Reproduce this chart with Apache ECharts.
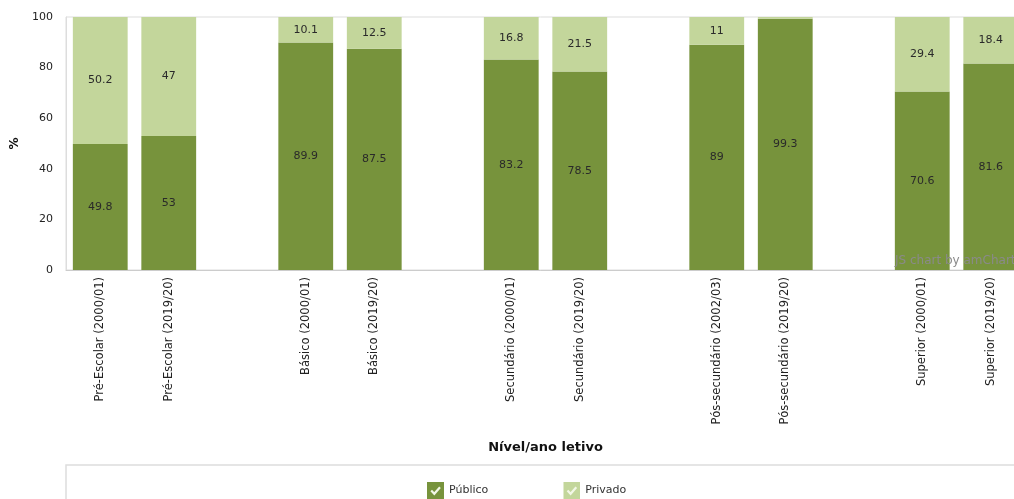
<!DOCTYPE html>
<html><head><meta charset="utf-8">
<script src="https://cdn.jsdelivr.net/npm/echarts@6/dist/echarts.min.js"></script>
<style>html,body{margin:0;padding:0;background:#fff}#c{width:1014px;height:499px}</style>
</head><body><div id="c"></div>
<script>
const categories = ["Pré-Escolar (2000/01)", "Pré-Escolar (2019/20)", " ",
  "Básico (2000/01)", "Básico (2019/20)", "  ",
  "Secundário (2000/01)", "Secundário (2019/20)", "   ",
  "Pós-secundário (2002/03)", "Pós-secundário (2019/20)", "    ",
  "Superior (2000/01)", "Superior (2019/20)"];
const publico = [49.8, 53, null, 89.9, 87.5, null, 83.2, 78.5, null, 89, 99.3, null, 70.6, 81.6];
const privado = [50.2, 47, null, 10.1, 12.5, null, 16.8, 21.5, null, 11, 0.7, null, 29.4, 18.4];
const yTicks = [0, 20, 40, 60, 80, 100];

const font = "DejaVu Sans";
const colPub = '#77933C', colPriv = '#C3D69B';
function checkIcon(c) {
  const svg = "<svg xmlns='http://www.w3.org/2000/svg' width='17' height='17'><rect width='17' height='17' fill='" + c +
    "'/><path d='M4.2 8.6L7.3 11.8L13 5.2' stroke='#f2f7e6' stroke-width='2.2' fill='none'/></svg>";
  return 'image://data:image/svg+xml;charset=utf-8,' + encodeURIComponent(svg);
}
const chart = echarts.init(document.getElementById('c'));
const lbl = {
  show: true, position: 'inside', color: '#2a2a2a', fontSize: 11, fontFamily: font,
  formatter: p => (p.value == null || p.value < 3) ? '' : String(p.value)
};
chart.setOption({
  animation: false,
  textStyle: { fontFamily: font },
  grid: { left: 66, top: 17, height: 253, width: 959, outerBoundsMode: 'none', containLabel: false,
    show: true, borderColor: '#ddd', borderWidth: 1 },
  legend: {
    data: [{ name: 'Público', icon: checkIcon(colPub) }, { name: 'Privado', icon: checkIcon(colPriv) }],
    left: 422, top: 477, itemWidth: 17, itemHeight: 17, itemGap: 75,
    textStyle: { fontSize: 11, color: '#333', fontFamily: font }
  },
  graphic: [
    { type: 'rect', shape: { x: 66, y: 465, width: 1000, height: 60 }, style: { fill: 'none', stroke: '#ddd', lineWidth: 1.5 } },
    { type: 'text', left: 895, top: 255, z: 100, style: { text: 'JS chart by amCharts', fill: '#8a8a8a', font: '12px ' + font } }
  ],
  xAxis: {
    type: 'category', data: categories,
    name: 'Nível/ano letivo', nameLocation: 'middle', nameGap: 171,
    nameTextStyle: { fontSize: 13, fontWeight: 'bold', color: '#111', fontFamily: font },
    axisLine: { lineStyle: { color: '#ccc' } }, axisTick: { show: false },
    axisLabel: { rotate: 90, interval: 0, fontSize: 11.5, color: '#222', margin: 7, fontFamily: font }
  },
  yAxis: {
    type: 'value', min: 0, max: 100, interval: 20,
    name: '%', nameLocation: 'middle', nameGap: 45, nameRotate: 90,
    nameTextStyle: { fontSize: 12, fontWeight: 'bold', color: '#111', fontFamily: font },
    axisLine: { show: true, lineStyle: { color: '#ddd' } }, axisTick: { show: false },
    splitLine: { show: false },
    axisLabel: { fontSize: 11, color: '#222', margin: 13, fontFamily: font,
      formatter: v => yTicks.includes(v) ? String(v) : '' }
  },
  series: [
    { name: 'Público', type: 'bar', stack: 's', data: publico, barWidth: '80%', itemStyle: { color: colPub }, label: lbl },
    { name: 'Privado', type: 'bar', stack: 's', data: privado, barWidth: '80%', itemStyle: { color: colPriv }, label: lbl }
  ]
});
</script></body></html>
